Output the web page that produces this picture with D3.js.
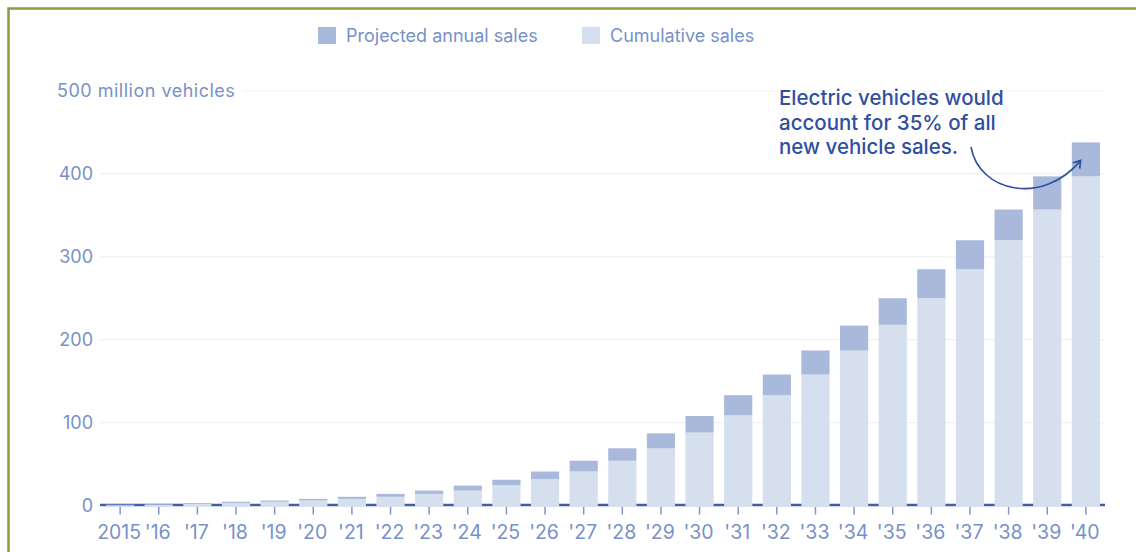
<!DOCTYPE html>
<html><head><meta charset="utf-8">
<script src="https://cdn.jsdelivr.net/npm/d3@7"></script>
<style>
html,body{margin:0;padding:0;background:#fff;}
svg{display:block;font-family:"Inter","Liberation Sans",sans-serif;}
</style></head>
<body>
<svg id="chart" width="1136" height="552"></svg>
<script>
const years = ["2015","'16","'17","'18","'19","'20","'21","'22","'23","'24","'25","'26","'27","'28","'29","'30","'31","'32","'33","'34","'35","'36","'37","'38","'39","'40"];
// cumulative sales up to previous year (light part)
const cumulative = [0.3,1,2,3,4.5,6,8,10.5,14,18,24.5,32,41,54,69,88,109,133,158,187,218,250,285,320,357,397];
// projected annual sales (dark part, stacked on top)
const annual = [0.7,1,1,1.5,1.5,2,2.5,3.5,4,6,6.5,9,13,15,18,20,24,25,29,30,32,35,35,37,40,41];
const yTicks = [0,100,200,300,400,500];
const legendLabels = ["Projected annual sales","Cumulative sales"];
const noteLines = ["Electric vehicles would","account for 35% of all","new vehicle sales."];

const svg = d3.select("#chart");
const colDark = "#a9b9dc", colLight = "#d6dfee", txt = "#7891c8", axisCol = "#3f5fab";

// frame
svg.append("path").attr("d","M8.5,552 L8.5,8.5 L1136,8.5").attr("fill","none").attr("stroke","#8a9b45").attr("stroke-width",2.5);

const x = d3.scaleBand().domain(years).range([101,1105]).paddingInner(0.27).paddingOuter(0.13);
const y = d3.scaleLinear().domain([0,500]).range([505.5,91]);

// gridlines
const g = svg.append("g");
g.selectAll("line.grid").data(yTicks.filter(d=>d>0)).join("line")
  .attr("x1",d=>d===500?242:100).attr("x2",1105)
  .attr("y1",d=>y(d)).attr("y2",d=>y(d))
  .attr("stroke","#eef1f6").attr("stroke-width",1.2);

// y labels
g.selectAll("text.yl").data(yTicks).join("text")
  .attr("x",d=>d===500?57:93).attr("y",d=>y(d))
  .attr("dy","0.36em").attr("text-anchor",d=>d===500?"start":"end")
  .attr("fill",txt).attr("font-size",18)
  .attr("letter-spacing",d=>d===500?0.5:0)
  .text(d=>d===500?"500 million vehicles":d);

// axis line
svg.append("line").attr("x1",100).attr("x2",1105).attr("y1",y(0)-0.5).attr("y2",y(0)-0.5)
  .attr("stroke",axisCol).attr("stroke-width",2.5);

// ticks
svg.selectAll("line.tick").data(years).join("line")
  .attr("x1",d=>x(d)+x.bandwidth()/2).attr("x2",d=>x(d)+x.bandwidth()/2)
  .attr("y1",y(0)+1).attr("y2",y(0)+9)
  .attr("stroke","#7d96cc").attr("stroke-width",1.5);

svg.selectAll("text.xl").data(years).join("text")
  .attr("x",d=>x(d)+x.bandwidth()/2 - 1).attr("y",532).attr("dy","0.35em")
  .attr("text-anchor","middle").attr("fill",txt).attr("font-size",19.5)
  .text(d=>d);

// bars
const bars = svg.append("g");
bars.selectAll("rect.cum").data(years).join("rect")
  .attr("x",d=>x(d)).attr("width",x.bandwidth())
  .attr("y",(d,i)=>y(cumulative[i])).attr("height",(d,i)=>y(0)-y(cumulative[i])+1.5)
  .attr("fill",colLight);
bars.selectAll("rect.ann").data(years).join("rect")
  .attr("x",d=>x(d)).attr("width",x.bandwidth())
  .attr("y",(d,i)=>y(cumulative[i]+annual[i])).attr("height",(d,i)=>y(cumulative[i])-y(cumulative[i]+annual[i]))
  .attr("fill",colDark);

// legend
const leg = svg.append("g");
const legX = [318,582];
[colDark,colLight].forEach((c,i)=>{
  leg.append("rect").attr("x",legX[i]).attr("y",27).attr("width",18).attr("height",17).attr("fill",c);
  leg.append("text").attr("x",legX[i]+28).attr("y",36).attr("dy","0.36em").attr("fill",txt).attr("font-size",18).text(legendLabels[i]);
});

// annotation
const note = svg.append("text").attr("x",779).attr("fill","#2f4f9f").attr("font-size",20.5).attr("font-weight",500);
noteLines.forEach((l,i)=>note.append("tspan").attr("x",779).attr("y",98+i*24.5).attr("dy","0.36em").text(l));

const defs = svg.append("defs");
defs.append("marker").attr("id","ah").attr("viewBox","0 0 10 10").attr("refX",6).attr("refY",5)
  .attr("markerWidth",7).attr("markerHeight",7).attr("orient","auto-start-reverse")
  .append("path").attr("d","M1,1 L7,5 L1,9").attr("fill","none").attr("stroke","#2f4f9f").attr("stroke-width",1.6);
const last = years.length-1;
const ex = x(years[last])+x.bandwidth()/2 - 6, ey = y(cumulative[last]+annual[last]/2) + 2;
svg.append("path").attr("d",`M971,147 C979,192 1042,206 ${ex},${ey}`)
  .attr("fill","none").attr("stroke","#2f4f9f").attr("stroke-width",1.6).attr("marker-end","url(#ah)");
</script>
</body></html>
